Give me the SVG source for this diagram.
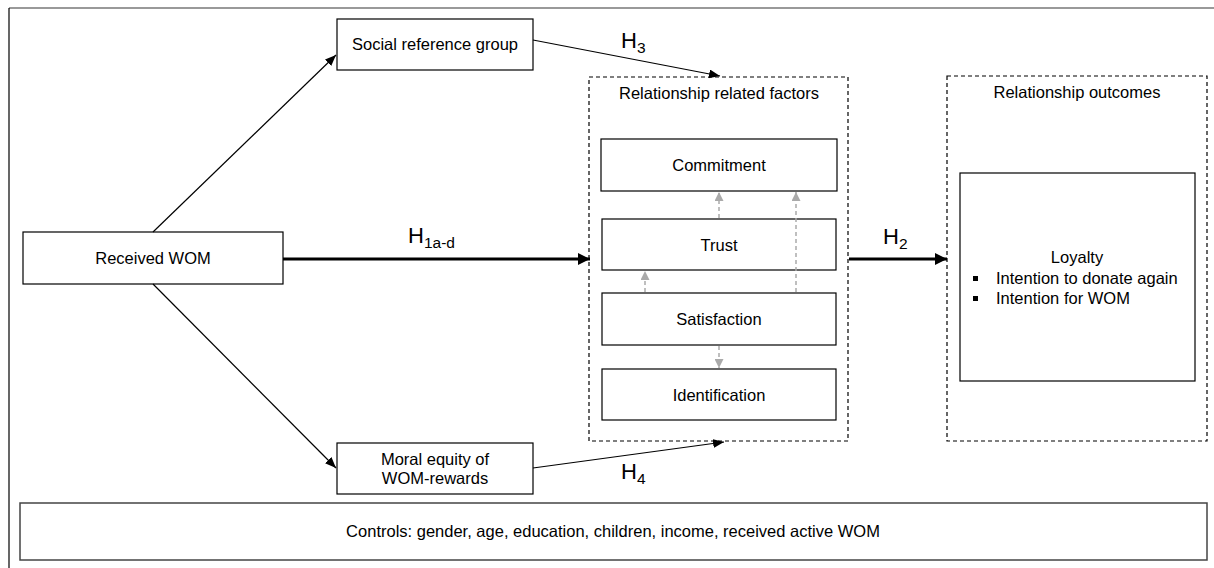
<svg xmlns="http://www.w3.org/2000/svg" width="1214" height="568" viewBox="0 0 1214 568">
<style>
.box{fill:#fff;stroke:#000;stroke-width:1.2}
.dash{fill:none;stroke:#000;stroke-width:1.2;stroke-dasharray:4 3}
.t{font-family:"Liberation Sans",Arial,sans-serif;font-size:16.5px;fill:#000}
.c{text-anchor:middle}
.h{font-family:"Liberation Sans",Arial,sans-serif;font-size:22px;fill:#000}
.sub{font-size:15.5px}
.thin{stroke:#000;stroke-width:1.2;fill:none}
.thick{stroke:#000;stroke-width:3.2;fill:none}
.gray{stroke:#aaa;stroke-width:1.5;stroke-dasharray:4 3;fill:none}
</style>
<defs>
<marker id="a" markerUnits="userSpaceOnUse" markerWidth="11" markerHeight="9" refX="11" refY="4.5" orient="auto"><path d="M0,0 L11,4.5 L0,9 z" fill="#000"/></marker>
<marker id="ab" markerUnits="userSpaceOnUse" markerWidth="12" markerHeight="12" refX="12" refY="6" orient="auto"><path d="M0,0 L12,6 L0,12 z" fill="#000"/></marker>
<marker id="ag" markerUnits="userSpaceOnUse" markerWidth="9" markerHeight="9" refX="9" refY="4.5" orient="auto"><path d="M0,0 L9,4.5 L0,9 z" fill="#aaa"/></marker>
</defs>
<rect width="1214" height="568" fill="#fff"/>
<line x1="9" y1="8" x2="1214" y2="8" stroke="#777" stroke-width="1.5"/>
<line x1="9" y1="8" x2="9" y2="568" stroke="#000" stroke-width="1.2"/>

<g id="relationship-factors"><rect class="dash" x="589" y="77" width="259" height="364"/><text class="t c" x="719" y="99">Relationship related factors</text></g>
<g id="relationship-outcomes"><rect class="dash" x="947" y="76" width="260" height="365"/><text class="t c" x="1077" y="98">Relationship outcomes</text></g>

<g id="social-reference-group"><rect class="box" x="337" y="19" width="196" height="51"/><text class="t c" x="435" y="50">Social reference group</text></g>
<g id="received-wom"><rect class="box" x="23" y="232" width="260" height="52"/><text class="t c" x="153" y="264">Received WOM</text></g>
<g id="moral-equity"><rect class="box" x="337" y="443" width="196" height="51"/><text class="t c" x="435" y="465">Moral equity of</text><text class="t c" x="435" y="484">WOM-rewards</text></g>
<g id="commitment"><rect class="box" x="601" y="139" width="236" height="52"/><text class="t c" x="719" y="171">Commitment</text></g>
<g id="trust"><rect class="box" x="602" y="219" width="234" height="51"/><text class="t c" x="719" y="251">Trust</text></g>
<g id="satisfaction"><rect class="box" x="602" y="293" width="234" height="52"/><text class="t c" x="719" y="325">Satisfaction</text></g>
<g id="identification"><rect class="box" x="602" y="369" width="234" height="51"/><text class="t c" x="719" y="401">Identification</text></g>
<g id="loyalty"><rect class="box" x="960" y="173" width="235" height="208"/><text class="t c" x="1077" y="263">Loyalty</text>
<rect x="973" y="276" width="5" height="5" fill="#000"/><text class="t" x="996" y="284">Intention to donate again</text>
<rect x="973" y="296" width="5" height="5" fill="#000"/><text class="t" x="996" y="304">Intention for WOM</text></g>
<g id="controls"><rect x="20" y="503" width="1187" height="57" fill="#fff" stroke="#444" stroke-width="1.5"/><text class="t c" x="613" y="537">Controls: gender, age, education, children, income, received active WOM</text></g>

<g id="connectors">
<line class="thin" x1="153" y1="232" x2="336" y2="55" marker-end="url(#a)"/>
<line class="thin" x1="153" y1="284" x2="336" y2="468" marker-end="url(#a)"/>
<line class="thin" x1="533" y1="40" x2="720" y2="76" marker-end="url(#a)"/>
<line class="thin" x1="533" y1="468" x2="724" y2="442" marker-end="url(#a)"/>
<line class="thick" x1="283" y1="259" x2="590" y2="259" marker-end="url(#ab)"/>
<line class="thick" x1="849" y1="259" x2="947" y2="259" marker-end="url(#ab)"/>
<line class="gray" x1="719" y1="218" x2="719" y2="192" marker-end="url(#ag)"/>
<line class="gray" x1="796" y1="292" x2="796" y2="192" marker-end="url(#ag)"/>
<line class="gray" x1="645" y1="292" x2="645" y2="271" marker-end="url(#ag)"/>
<line class="gray" x1="719" y1="346" x2="719" y2="368" marker-end="url(#ag)"/>
</g>

<g id="labels">
<text class="h" x="621" y="48">H<tspan class="sub" dy="5">3</tspan></text>
<text class="h" x="408" y="243">H<tspan class="sub" dy="5">1a-d</tspan></text>
<text class="h" x="883" y="244">H<tspan class="sub" dy="5">2</tspan></text>
<text class="h" x="621" y="479">H<tspan class="sub" dy="5">4</tspan></text>
</g>
</svg>
